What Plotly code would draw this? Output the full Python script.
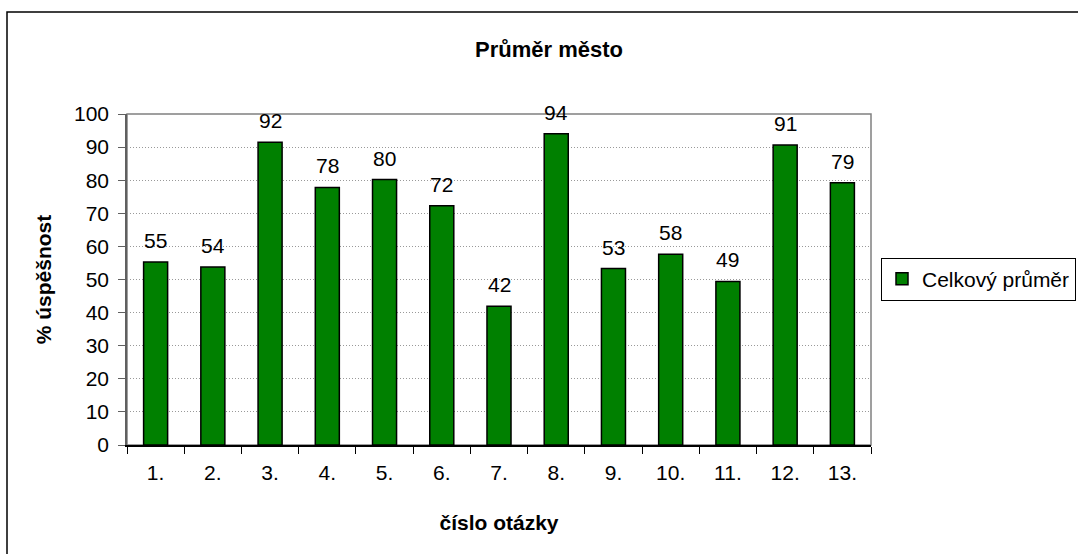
import plotly.graph_objects as go

questions = ["1.", "2.", "3.", "4.", "5.", "6.", "7.", "8.", "9.", "10.", "11.", "12.", "13."]
scores = [55.3, 53.8, 91.5, 77.8, 80.2, 72.3, 41.9, 94.0, 53.3, 57.6, 49.4, 90.6, 79.2]
series_name = "Celkový průměr"

# figure is a bit wider than the window so the legend box runs off the edge like the original
W, H = 1110, 554
L, R, T, B = 127, 239, 114, 109
pw, ph = W - L - R, H - T - B

font = "Liberation Sans, Arial, sans-serif"
fs = 21

fig = go.Figure(go.Bar(
    x=questions, y=scores, name=series_name,
    marker=dict(color="#008000", line=dict(color="black", width=1.5)),
    showlegend=True
))

# value labels above the bars (x given as category index)
for i, s in enumerate(scores):
    fig.add_annotation(x=i, y=s, text=f"{s:.0f}", showarrow=False,
                       yanchor="bottom", yshift=8, font=dict(size=fs, color="black"))

fig.update_layout(
    width=W, height=H,
    margin=dict(l=L, r=R, t=T, b=B),
    plot_bgcolor="white", paper_bgcolor="white",
    font=dict(family=font, color="black", size=fs),
    bargap=0.58,
    title=dict(text="<b>Průměr město</b>", x=549 / W, xref="container", xanchor="center",
               y=1 - 49 / H, yref="container", yanchor="middle",
               font=dict(size=22)),
    xaxis=dict(
        type="category",
        showgrid=False, showline=True, linecolor="black", linewidth=1.5,
        ticks="outside", tickson="boundaries", ticklen=7, tickcolor="black",
        tickfont=dict(size=fs), ticklabelstandoff=8,
        title=dict(text="<b>číslo otázky</b>", font=dict(size=21), standoff=32),
    ),
    yaxis=dict(
        range=[0, 100], dtick=10, showgrid=True, gridcolor="#999999", griddash="1px,2px",
        gridwidth=1, showline=True, linecolor="#606060", linewidth=1.5,
        ticks="outside", ticklen=7, tickcolor="#606060", tickfont=dict(size=fs),
        ticklabelstandoff=5, zeroline=False,
        title=dict(text="<b>% úspěšnost</b>", font=dict(size=21), standoff=17),
    ),
    legend=dict(x=(881 - L) / pw, xanchor="left", y=1 - (279 - T) / ph, yanchor="middle",
                bordercolor="black", borderwidth=1, bgcolor="white",
                font=dict(size=fs), itemwidth=30),
)

# plot area border (grey top and right)
fig.add_shape(type="rect", xref="paper", yref="paper", x0=0, x1=1, y0=0, y1=1,
              line=dict(color="#808080", width=1.5), layer="below")
# chart outer frame (runs off the right and bottom edge)
fig.add_shape(type="rect", xref="paper", yref="paper",
              x0=(7 - L) / pw, x1=(W + 40 - L) / pw,
              y0=-(H + 40 - (T + ph)) / ph, y1=1 + (T - 12) / ph,
              line=dict(color="black", width=1.5))

fig.write_html("out.html", config={"displayModeBar": False},
               post_script="document.body.style.margin='0';")
